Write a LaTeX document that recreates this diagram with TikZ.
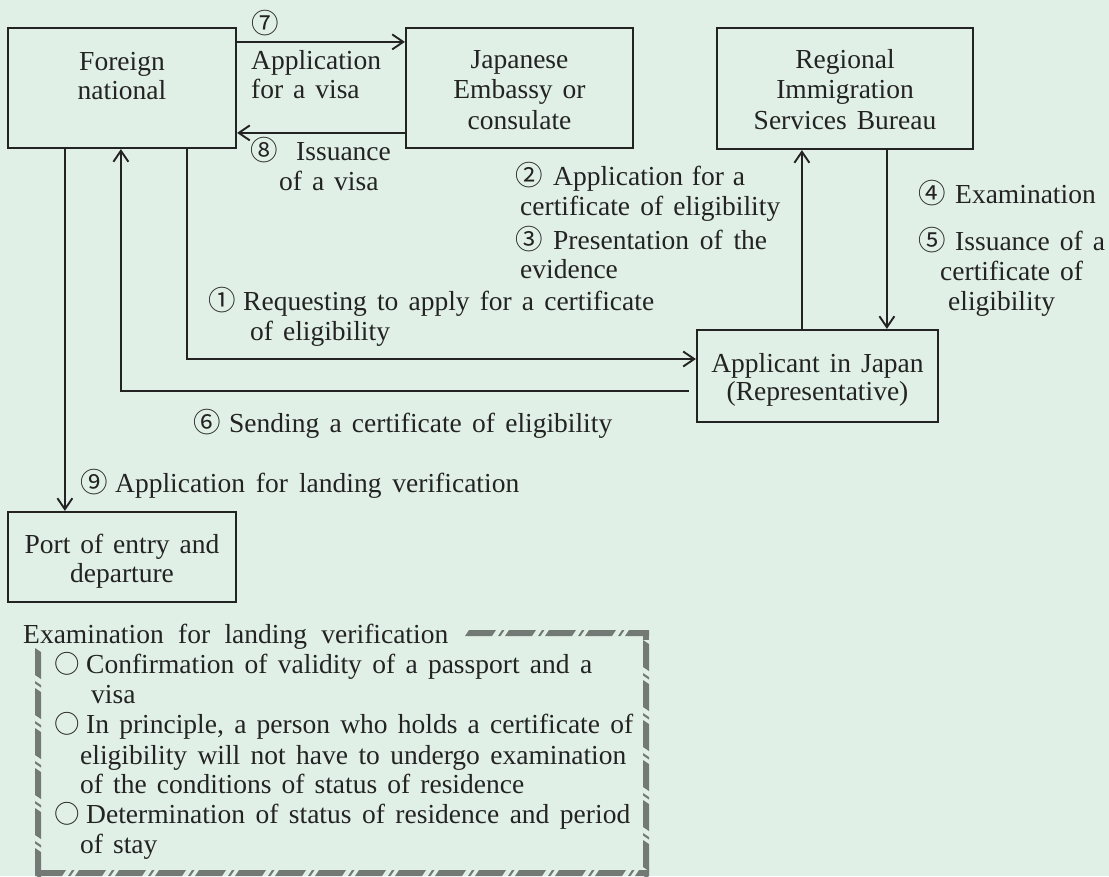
\documentclass[tikz,border=0pt]{standalone}
\usepackage{fontspec}
\setmainfont{Liberation Serif}[WordSpace=1.45]
\newfontfamily\cjk{Noto Sans CJK JP}
\usetikzlibrary{arrows.meta}
\definecolor{bgc}{RGB}{225,240,231}
\definecolor{ink}{RGB}{35,35,35}
\definecolor{dashc}{RGB}{115,122,117}
\newcommand\cn[2]{\makebox[#1][l]{\cjk #2}}
\newcommand\sj[2]{\makebox[#1][s]{#2}}
\newcommand\bul{\makebox[32pt][l]{\cjk\fontsize{25.5}{26}\selectfont○}}
\begin{document}
\begin{tikzpicture}[x=1pt,y=-1pt,
  box/.style={draw=ink,line width=2.2pt,inner sep=0pt,rectangle},
  txt/.style={text=ink,inner sep=0pt,anchor=base,font=\fontsize{27.5}{30}\selectfont},
  lbl/.style={text=ink,inner sep=0pt,anchor=base west,font=\fontsize{27.5}{30}\selectfont},
  arr/.style={draw=ink,line width=1.9pt,-{Straight Barb[length=11pt,width=15pt]}},
  hatch/.style={fill=dashc},
  ]
\useasboundingbox (0,0) rectangle (1109,876);
\fill[bgc] (0,0) rectangle (1109,876);

% boxes
\node[box,minimum width=228pt,minimum height=120pt] (fn) at (122,88) {};
\node[box,minimum width=227pt,minimum height=120pt] (emb) at (519.5,88) {};
\node[box,minimum width=256pt,minimum height=121pt] (rib) at (845,88.5) {};
\node[box,minimum width=241pt,minimum height=92pt] (app) at (817.5,376) {};
\node[box,minimum width=228pt,minimum height=90pt] (port) at (122,557) {};

% box texts
\node[txt] (fnA) at (122,70) {Foreign};
\node[txt] (fnB) at (122,99) {national};
\node[txt] (embA) at (519.5,68) {Japanese};
\node[txt] (embB) at (519.5,98) {Embassy or};
\node[txt] (embC) at (519.5,129) {consulate};
\node[txt] (ribA) at (845,68) {Regional};
\node[txt] (ribB) at (845,98) {Immigration};
\node[txt] (ribC) at (845,129) {Services Bureau};
\node[txt] (appA) at (817.5,372) {Applicant in Japan};
\node[txt] (appB) at (817.5,400) {(Representative)};
\node[txt] (portA) at (122,553) {Port of entry and};
\node[txt] (portB) at (122,582) {departure};

% connectors
\draw[arr] ([yshift=-15pt]fn.north east) -- ([yshift=-15pt]emb.north west);
\draw[arr] ([yshift=-106pt]emb.north west) -- ([yshift=-106pt]fn.north east);
\draw[arr] ([xshift=-50pt]fn.south east) |- ([yshift=17pt]app.west);
\draw[arr] ([xshift=-7pt,yshift=-15pt]app.west) -| ([xshift=114pt]fn.south west);
\draw[arr] ([xshift=58pt]fn.south west) -- ([xshift=58pt]port.north west);
\draw[arr] ([xshift=106pt]app.north west) -- ([xshift=86pt]rib.south west);
\draw[arr] ([xshift=171pt]rib.south west) -- ([xshift=191pt]app.north west);

% labels
\node[lbl] (l7a) at (251,33) {\cjk ⑦};
\node[lbl] (l7b) at (251,69) {Application};
\node[lbl] (l7c) at (251,98) {for a visa};
\node[lbl] (l8a) at (250,160) {\cn{46pt}{⑧}Issuance};
\node[lbl] (l8b) at (279,190) {of a visa};
\node[lbl] (l2a) at (515,185) {\cn{38pt}{②}\sj{192pt}{Application for a}};
\node[lbl] (l2b) at (520,215) {\sj{260pt}{certificate of eligibility}};
\node[lbl] (l3a) at (515,249) {\cn{38pt}{③}\sj{214pt}{Presentation of the}};
\node[lbl] (l3b) at (520,278) {evidence};
\node[lbl] (l1a) at (208,310) {\cn{35pt}{①}\sj{411pt}{Requesting to apply for a certificate}};
\node[lbl] (l1b) at (250,340) {of eligibility};
\node[lbl] (l4) at (918,203) {\cn{37pt}{④}Examination};
\node[lbl] (l5a) at (918,250) {\cn{37pt}{⑤}\sj{150pt}{Issuance of a}};
\node[lbl] (l5b) at (940,280) {certificate of};
\node[lbl] (l5c) at (948,310) {eligibility};
\node[lbl] (l6) at (193,432) {\cn{36pt}{⑥}\sj{383pt}{Sending a certificate of eligibility}};
\node[lbl] (l9) at (80,492) {\cn{35pt}{⑨}\sj{404pt}{Application for landing verification}};

% examination box: hatched frame
\node[lbl] (ttl) at (23,643) {\sj{425pt}{Examination for landing verification}};
\begin{scope}
  \clip (465,630) rectangle (649,636);
  \foreach \i in {0,...,4} {
    \fill[hatch] ({465+40*\i},636) -- ++(27,0) -- ++(4,-6) -- ++(-27,0) -- cycle;
    \fill[hatch] ({465+40*\i+33},636) -- ++(2.5,0) -- ++(4,-6) -- ++(-2.5,0) -- cycle;
  }
\end{scope}
\begin{scope}
  \clip (35,870) rectangle (649,876);
  \foreach \i in {0,...,15} {
    \fill[hatch] ({35+40*\i},876) -- ++(27,0) -- ++(4,-6) -- ++(-27,0) -- cycle;
    \fill[hatch] ({35+40*\i+33},876) -- ++(2.5,0) -- ++(4,-6) -- ++(-2.5,0) -- cycle;
  }
\end{scope}
\begin{scope}
  \clip (643,630) rectangle (649,876);
  \fill[hatch] (643,630) rectangle (649,640);
  \foreach \i in {0,...,6} {
    \fill[hatch] (643,{640+40*\i}) -- ++(6,4) -- ++(0,27) -- ++(-6,-4) -- cycle;
    \fill[hatch] (643,{640+40*\i+33}) -- ++(6,4) -- ++(0,2.5) -- ++(-6,-4) -- cycle;
  }
\end{scope}
\begin{scope}
  \clip (35,648) rectangle (41,876);
  \foreach \i in {0,...,5} {
    \fill[hatch] (35,{648+40*\i}) -- ++(6,4) -- ++(0,27) -- ++(-6,-4) -- cycle;
    \fill[hatch] (35,{648+40*\i+33}) -- ++(6,4) -- ++(0,2.5) -- ++(-6,-4) -- cycle;
  }
\end{scope}
\node[lbl] (b1a) at (54,673) {\bul\sj{506pt}{Confirmation of validity of a passport and a}};
\node[lbl] (b1b) at (91,703) {visa};
\node[lbl] (b2a) at (54,733) {\bul\sj{547pt}{In principle, a person who holds a certificate of}};
\node[lbl] (b2b) at (80,764) {\sj{546pt}{eligibility will not have to undergo examination}};
\node[lbl] (b2c) at (80,793) {\sj{444pt}{of the conditions of status of residence}};
\node[lbl] (b3a) at (54,823) {\bul\sj{544pt}{Determination of status of residence and period}};
\node[lbl] (b3b) at (80,853) {of stay};
\end{tikzpicture}
\end{document}
